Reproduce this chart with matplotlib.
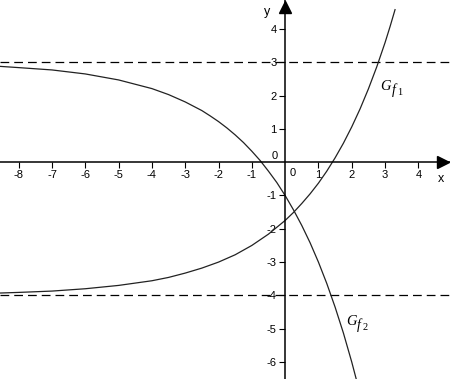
import matplotlib
matplotlib.use("Agg")
import matplotlib.pyplot as plt

plt.rcParams['font.family'] = ['Liberation Sans', 'DejaVu Sans']

# points
f1_x = [-8.6, -8, -7, -6, -5, -4, -3.5, -3, -2.5, -2, -1.5, -1, -0.5, 0, 0.25,
        0.5, 0.75, 1, 1.25, 1.5, 1.75, 2, 2.25, 2.5, 2.75, 3, 3.15, 3.3]
f1_y = [-3.93, -3.91, -3.87, -3.80, -3.70, -3.56, -3.46, -3.33, -3.18, -3.00,
        -2.78, -2.50, -2.16, -1.75, -1.51, -1.24, -0.95, -0.63, -0.27, 0.13,
        0.57, 1.06, 1.60, 2.20, 2.86, 3.59, 4.07, 4.58]

f2_x = [-8.6, -8, -7, -6, -5, -4, -3.5, -3, -2.5, -2.25, -2, -1.75, -1.5, -1.25,
        -1, -0.75, -0.5, -0.25, 0, 0.25, 0.5, 0.75, 1, 1.25, 1.5, 1.75, 2, 2.15]
f2_y = [2.88, 2.84, 2.77, 2.65, 2.47, 2.21, 2.03, 1.81, 1.55, 1.39, 1.22, 1.03,
        0.82, 0.59, 0.33, 0.05, -0.27, -0.61, -1.00, -1.43, -1.90, -2.42, -3.00,
        -3.64, -4.35, -5.13, -6.00, -6.57]

asymptotes = [3, -4]
x_ticks = [-8, -7, -6, -5, -4, -3, -2, -1, 1, 2, 3, 4]
y_ticks = [-6, -5, -4, -3, -2, -1, 1, 2, 3, 4]

fig = plt.figure(figsize=(4.5, 3.79), dpi=100)
ax = fig.add_axes([0, 0, 1, 1])
ax.set_xlim(-8.56, 4.95)
ax.set_ylim(-6.51, 4.87)

for a in asymptotes:
    ax.axhline(a, color='black', lw=0.9, dashes=(7, 4), zorder=1)

ax.plot(f1_x, f1_y, color='#222222', lw=0.9, zorder=2)
ax.plot(f2_x, f2_y, color='#222222', lw=0.9, zorder=2)

# axes through the origin
ax.spines['left'].set_position(('data', 0))
ax.spines['bottom'].set_position(('data', 0))
ax.spines['top'].set_visible(False)
ax.spines['right'].set_visible(False)
for s in ['left', 'bottom']:
    ax.spines[s].set_linewidth(1.1)
ax.set_xticks(x_ticks)
ax.set_yticks(y_ticks)
ax.set_yticklabels([str(t) for t in y_ticks])
ax.set_xticklabels([str(t) for t in x_ticks])
ax.tick_params(axis='both', direction='out', length=4, width=0.8, labelsize=8, pad=1.5)
ax.tick_params(axis='y', pad=2)

ax.plot(0.985, 0, '>k', markersize=9, transform=ax.get_yaxis_transform(), clip_on=False)
ax.plot(0, 0.982, '^k', markersize=9, transform=ax.get_xaxis_transform(), clip_on=False)

ax.text(-0.3, 0.18, '0', fontsize=8, ha='center', va='center')
ax.text(0.23, -0.31, '0', fontsize=8, ha='center', va='center')
ax.text(4.67, -0.5, 'x', fontsize=9, ha='center', va='center')
ax.text(-0.53, 4.5, 'y', fontsize=9, ha='center', va='center')


def graph_label(x, y, idx):
    kw = dict(family='Liberation Serif', style='italic', textcoords='offset points',
              ha='left', va='center')
    ax.annotate('G', (x, y), xytext=(0, 0), fontsize=10.5, **kw)
    ax.annotate('f', (x, y), xytext=(8.3, -2.5), fontsize=10, **kw)
    ax.annotate(idx, (x, y), xytext=(12.3, -4.5), fontsize=7.5,
                family='Liberation Serif', textcoords='offset points', ha='left', va='center')


graph_label(2.85, 2.27, '1')
graph_label(1.82, -4.79, '2')

fig.savefig('out.png', dpi=100)
